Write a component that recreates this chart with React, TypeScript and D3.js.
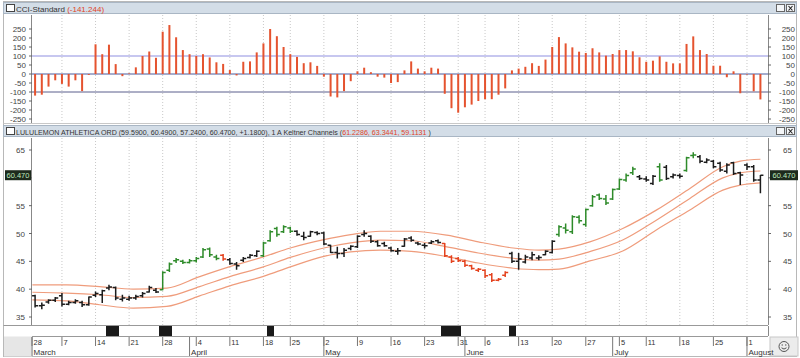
import React from 'react';
import * as d3 from 'd3';

// ---- data (trading-day index 0 = Feb 28 2011; bars start at index 1) ----
const FIRST_BAR = 1;
const open = [
  38.8, 37.0, 37.7, 38.0, 38.8, 37.3, 37.6, 37.6, 37.2, 38.9,
  39.0, 40.2, 40.3, 38.2, 38.2, 38.4, 38.8, 39.5, 39.8, 39.9,
  43.4, 45.1, 45.0, 44.8, 45.1, 45.8, 47.2, 45.8, 46.1, 45.3,
  44.5, 45.2, 45.7, 46.0, 46.0, 48.7, 50.9, 50.3, 51.0, 50.4,
  49.5, 49.5, 50.2, 50.1, 47.9, 46.6, 46.4, 47.3, 47.6, 49.8,
  49.5, 48.5, 48.2, 47.4, 46.8, 47.7, 49.2, 48.3, 47.9, 48.3,
  48.7, 48.2, 45.8, 45.5, 45.0, 44.2, 43.4, 43.4, 42.6, 41.6,
  42.5, 46.4, 45.0, 44.9, 45.6, 45.6, 46.2, 46.6, 49.8, 51.0,
  50.3, 52.9, 51.6, 55.0, 56.9, 56.2, 56.2, 58.0, 59.6, 60.9,
  60.2, 59.8, 59.0, 62.0, 61.9, 60.2, 60.4, 61.3, 64.0, 63.8,
  62.8, 63.0, 62.6, 61.2, 62.7, 60.9, 62.3, 62.0, 59.59,
];
const high = [
  39.0, 37.6, 38.2, 38.6, 39.3, 37.9, 38.2, 37.9, 38.7, 39.6,
  39.9, 40.8, 40.5, 39.0, 38.8, 39.0, 39.5, 40.6, 40.2, 43.2,
  44.8, 45.6, 45.3, 45.4, 45.8, 47.4, 47.5, 46.2, 46.3, 45.6,
  44.9, 45.8, 46.3, 47.0, 48.5, 50.6, 51.2, 51.5, 51.2, 50.6,
  50.3, 50.5, 50.4, 50.3, 48.0, 47.6, 47.4, 47.9, 49.7, 50.6,
  49.7, 48.8, 48.5, 47.6, 47.4, 49.2, 49.5, 48.5, 48.3, 48.8,
  48.9, 48.3, 46.1, 45.8, 45.3, 44.4, 43.8, 43.6, 42.9, 42.0,
  43.2, 46.7, 46.5, 46.2, 46.7, 46.1, 47.0, 48.8, 51.5, 51.8,
  53.3, 53.3, 54.5, 56.9, 57.2, 56.9, 58.1, 59.9, 60.8, 62.0,
  60.5, 60.3, 60.5, 62.6, 62.3, 60.8, 60.8, 63.8, 64.6, 64.1,
  63.5, 63.2, 62.9, 62.6, 62.9, 61.1, 62.6, 62.3, 60.49,
];
const low = [
  36.7, 36.4, 37.4, 37.7, 36.9, 37.1, 37.4, 36.8, 37.0, 38.6,
  37.5, 39.8, 38.0, 37.8, 37.9, 38.1, 38.5, 39.4, 39.3, 39.8,
  43.1, 44.7, 44.5, 44.6, 44.8, 45.6, 45.8, 45.2, 45.1, 44.4,
  43.5, 44.9, 45.5, 45.8, 45.8, 48.5, 49.4, 50.1, 50.1, 49.6,
  48.8, 49.4, 49.7, 47.9, 46.5, 45.5, 45.8, 47.0, 47.4, 49.4,
  48.3, 47.6, 47.6, 46.7, 46.2, 47.6, 48.5, 47.9, 47.3, 48.1,
  48.2, 45.8, 44.7, 44.9, 44.0, 43.5, 43.1, 42.0, 41.3, 41.4,
  42.2, 44.7, 43.5, 44.6, 45.2, 45.2, 46.1, 46.4, 49.4, 50.0,
  49.9, 51.8, 51.2, 54.8, 56.0, 55.1, 56.0, 57.8, 59.3, 60.5,
  59.6, 59.3, 58.7, 59.3, 59.6, 59.9, 59.9, 61.1, 63.5, 62.6,
  62.6, 61.7, 61.1, 60.8, 60.5, 58.7, 61.4, 59.3, 57.24,
];
const close = [
  37.0, 37.1, 38.0, 38.4, 37.3, 37.6, 37.9, 37.2, 38.6, 39.2,
  39.7, 40.4, 38.4, 38.4, 38.4, 38.7, 39.2, 40.3, 39.5, 43.0,
  44.5, 45.3, 44.8, 45.1, 45.5, 47.1, 46.2, 45.5, 45.4, 44.6,
  44.2, 45.5, 46.1, 46.8, 48.3, 50.3, 49.8, 51.2, 50.4, 49.8,
  49.3, 50.3, 50.0, 48.1, 46.6, 46.4, 47.0, 47.7, 49.5, 50.0,
  48.6, 47.8, 47.8, 46.9, 46.9, 49.0, 48.8, 48.1, 47.8, 48.5,
  48.4, 46.0, 45.0, 45.1, 44.3, 43.7, 43.6, 42.4, 41.6, 41.8,
  43.0, 45.0, 45.4, 45.8, 46.2, 45.7, 46.8, 48.6, 51.2, 50.6,
  53.0, 52.3, 54.3, 56.6, 56.3, 55.5, 57.9, 59.7, 60.4, 61.6,
  59.9, 59.6, 60.3, 59.6, 59.9, 60.5, 60.3, 63.6, 64.1, 63.0,
  63.2, 62.0, 61.4, 62.3, 60.8, 60.5, 62.0, 59.6, 60.47,
];
// bar colour state: k = neutral, g = up, r = down
const barState = (
  'kkkkkkkkkkkkkkkkkkk' + 'ggggggggg' + 'r' + 'kkkkk' + 'ggggg' +
  'kkkkkkkkkkkkkkkkkkkkkk' + 'rrrrrrrrrr' + 'kkkkkkk' + 'gggggggggggg' +
  'kkk' + 'g' + 'kkk' + 'gg' + 'kkkkkkkkkk'
).split('');

const cci = [
  -120, -115, -70, -35, -55, -70, -35, -95, -5, 165,
  110, 163, 55, -12, 3, 37, 100, 125, 90, 235,
  272, 204, 133, 110, 100, 110, 92, 65, 56, 22,
  -8, 68, 70, 120, 170, 250, 210, 150, 110, 95,
  60, 65, 45, -15, -125, -130, -95, -40, 15, 35,
  10, -15, -20, -50, -45, 20, 70, 30, 15, 35,
  30, -110, -190, -215, -185, -170, -150, -140, -140, -115,
  -80, 20, 30, 40, 60, 45, 80, 150, 205, 170,
  148, 124, 117, 143, 120, 102, 111, 133, 133, 126,
  93, 68, 74, 98, 68, 59, 59, 167, 209, 133,
  111, 46, 46, -18, 15, -107, -3, -96, -141.244,
];

// Keltner channel readings
const keltIdx = [0.6, 5.7, 10.6, 15.6, 20.6, 25.5, 30, 35, 39, 44, 48, 52.4, 57, 62.3, 67, 72.2, 76, 79, 83.6, 88.5, 93.5, 98.5, 103.4, 106, 109];
const keltUpper = [40.76, 40.76, 40.46, 40.0, 40.2, 42.26, 44.05, 45.8, 47.4, 48.9, 49.8, 50.4, 50.4, 49.7, 48.5, 47.4, 47.0, 47.2, 48.5, 50.9, 54.2, 58.1, 62.0, 63.0, 63.34];
const keltMid = [39.45, 39.3, 39.0, 38.5, 38.7, 40.46, 42.26, 44.0, 45.7, 47.4, 48.3, 48.8, 48.7, 47.6, 46.5, 45.55, 45.2, 45.4, 46.75, 48.84, 52.4, 56.3, 60.0, 60.9, 61.23];
const keltLower = [38.07, 37.9, 37.2, 36.6, 36.9, 38.79, 40.6, 42.3, 44.0, 45.9, 46.7, 47.0, 46.8, 45.85, 44.7, 43.76, 43.5, 43.6, 45.07, 46.87, 50.64, 54.23, 57.8, 58.7, 59.11];

// marker strip (first and last bar index of each highlighted run)
const markerStart = [12, 20, 36, 62, 72];
const markerEnd = [13, 21, 36, 64, 72];

// axis labels
const weekTickIdx = [0, 5, 10, 15, 20, 25, 30, 35, 39, 44, 49, 54, 59, 64, 68, 73, 78, 83, 88, 92, 97, 102, 107];
const weekTickLabels = ['28', '7', '14', '21', '28', '4', '11', '18', '25', '2', '9', '16', '23', '31', '6', '13', '20', '27', '5', '11', '18', '25', '1'];
const monthIdx = [0.55, 24, 44, 65, 87, 107];
const monthLabels = ['March', 'April', 'May', 'June', 'July', 'August'];
const priceTicks = [35, 40, 45, 50, 55, 60, 65];
const cciTicks = [-250, -200, -150, -100, -50, 0, 50, 100, 150, 200, 250];
const lastPrice = 60.47;

const FONT = '"Liberation Sans", Arial, sans-serif';

export default function App() {
  const L = 32, R = 768;
  const x = d3.scaleLinear().domain([0.54, 110.13]).range([L, R]);
  const cciTop = 15, cciBot = 123;
  const yC = d3.scaleLinear().domain([-250, 250]).range([119, 29]);
  const mainTop = 138, mainBot = 325;
  const yP = d3.scaleLinear().domain([35, 65]).range([317, 150]);

  const colorOf = (s: string) => (s === 'g' ? '#2e8b2a' : s === 'r' ? '#e4421e' : '#1c1c1c');

  const bars = open.map((o, k) => {
    const i = k + FIRST_BAR;
    const cx = x(i);
    const d = `M${cx},${yP(high[k])}V${yP(low[k])}M${cx - 3},${yP(o)}H${cx}M${cx},${yP(close[k])}H${cx + 3}`;
    return <path key={k} d={d} stroke={colorOf(barState[k])} strokeWidth={1.5} fill="none" />;
  });

  const line = (vals: number[]) =>
    d3.line<number>().x((_, j) => x(keltIdx[j])).y((v) => yP(v)).curve(d3.curveMonotoneX)(vals) || '';

  const cciBars = cci.map((v, k) => {
    const i = k + FIRST_BAR;
    const y0 = yC(0), y1 = yC(v);
    return <rect key={k} x={x(i) - 1} y={Math.min(y0, y1)} width={2} height={Math.abs(y1 - y0)} fill="#e5532f" />;
  });

  const grid = (top: number, bot: number) =>
    weekTickIdx.slice(1).map((i, k) => (
      <line key={k} x1={x(i)} x2={x(i)} y1={top} y2={bot} stroke="#c8c8c8" strokeDasharray="1,2" />
    ));

  const titleBar = (y: number, children: React.ReactNode) => (
    <g>
      <rect x={3.5} y={y + 0.5} width={793} height={11} fill="#d3dde7" stroke="#a9b6c4" />
      <rect x={6.5} y={y + 2.5} width={8} height={7} fill="#ffffff" stroke="#444" />
      <g>{children}</g>
      <rect x={776.5} y={y + 2.5} width={8} height={7} fill="#f4f6f8" stroke="#666" />
      <rect x={786.5} y={y + 2.5} width={8} height={7} fill="#f4f6f8" stroke="#666" />
      <path d={`M${788.5},${y + 4}L${792.5},${y + 8.5}M${792.5},${y + 4}L${788.5},${y + 8.5}`} stroke="#222" strokeWidth={1.1} />
    </g>
  );

  return (
    <svg width={800} height={358} style={{ position: 'fixed', left: 0, top: 0, background: '#fff' }} fontFamily={FONT}>
      <rect x={0} y={0} width={800} height={358} fill="#ffffff" />
      <rect x={3.5} y={1.5} width={793} height={355} fill="none" stroke="#b8b8b8" />

      {/* ---------- CCI panel ---------- */}
      {titleBar(2, (
        <text x={16} y={11.5} fontSize={8} fill="#333">
          CCI-Standard <tspan fill="#e0442a">(-141.244)</tspan>
        </text>
      ))}
      {grid(cciTop, cciBot)}
      <line x1={L} x2={R} y1={yC(100)} y2={yC(100)} stroke="#8f8fe0" strokeWidth={1} />
      <line x1={L} x2={R} y1={yC(0)} y2={yC(0)} stroke="#4b5a9c" strokeWidth={1} />
      <line x1={L} x2={R} y1={yC(-100)} y2={yC(-100)} stroke="#5a5f8c" strokeWidth={1} />
      {cciBars}
      <line x1={L - 0.5} x2={L - 0.5} y1={cciTop} y2={cciBot} stroke="#888" />
      <line x1={R + 0.5} x2={R + 0.5} y1={cciTop} y2={cciBot} stroke="#888" />
      {cciTicks.map((t) => (
        <g key={t}>
          <line x1={L - 3} x2={L} y1={yC(t)} y2={yC(t)} stroke="#666" />
          <line x1={R} x2={R + 3} y1={yC(t)} y2={yC(t)} stroke="#666" />
          <text x={26} y={yC(t) + 3} fontSize={8} textAnchor="end" fill="#444">{t}</text>
          <text x={795} y={yC(t) + 3} fontSize={8} textAnchor="end" fill="#444">{t}</text>
        </g>
      ))}
      <line x1={3.5} x2={796.5} y1={123.5} y2={123.5} stroke="#c8c8c8" />

      {/* ---------- price panel ---------- */}
      {titleBar(125, (
        <text x={16} y={134.5} fontSize={7.1} fill="#333">
          LULULEMON ATHLETICA ORD (59.5900, 60.4900, 57.2400, 60.4700, +1.1800), 1 A Keltner Channels (
          <tspan fill="#e0442a">61.2286, 63.3441, 59.1131</tspan> )
        </text>
      ))}
      {grid(mainTop, mainBot)}
      <path d={line(keltUpper)} fill="none" stroke="#ef9c7c" strokeWidth={1.2} />
      <path d={line(keltMid)} fill="none" stroke="#ef9c7c" strokeWidth={1.2} />
      <path d={line(keltLower)} fill="none" stroke="#ef9c7c" strokeWidth={1.2} />
      {bars}
      <line x1={L - 0.5} x2={L - 0.5} y1={mainTop} y2={mainBot} stroke="#888" />
      <line x1={R + 0.5} x2={R + 0.5} y1={mainTop} y2={mainBot} stroke="#888" />
      {priceTicks.map((t) => (
        <g key={t}>
          <line x1={L - 3} x2={L} y1={yP(t)} y2={yP(t)} stroke="#666" />
          <line x1={R} x2={R + 3} y1={yP(t)} y2={yP(t)} stroke="#666" />
          {Math.abs(yP(t) - yP(lastPrice)) > 9 && (
            <>
              <text x={25} y={yP(t) + 3} fontSize={8} textAnchor="end" fill="#444">{t}</text>
              <text x={792} y={yP(t) + 3} fontSize={8} textAnchor="end" fill="#444">{t}</text>
            </>
          )}
        </g>
      ))}
      <rect x={5} y={yP(lastPrice) - 5} width={26} height={10} fill="#1d2a1d" />
      <text x={18} y={yP(lastPrice) + 3} fontSize={7.5} textAnchor="middle" fill="#bfe8bf">{lastPrice.toFixed(3)}</text>
      <rect x={770} y={yP(lastPrice) - 5} width={28} height={10} fill="#1d2a1d" />
      <text x={784} y={yP(lastPrice) + 3} fontSize={7.5} textAnchor="middle" fill="#bfe8bf">{lastPrice.toFixed(3)}</text>

      {/* marker strip */}
      <line x1={3.5} x2={R} y1={325.5} y2={325.5} stroke="#999" />
      {markerStart.map((s, k) => (
        <rect key={k} x={Math.round(x(s - 0.5))} y={326} width={Math.round(x(markerEnd[k] + 0.5) - x(s - 0.5))} height={10} fill="#1a1a1a" />
      ))}
      <line x1={R + 0.5} x2={R + 0.5} y1={326} y2={336} stroke="#888" />

      {/* date axis */}
      <rect x={4} y={336.5} width={L - 4} height={20} fill="#e6e6e6" />
      <rect x={R + 2} y={337} width={28} height={19} fill="#ececec" stroke="#c8c8c8" />
      <circle cx={784} cy={346.5} r={5} fill="none" stroke="#555" />
      <circle cx={782.2} cy={345} r={0.7} fill="#555" />
      <circle cx={785.8} cy={345} r={0.7} fill="#555" />
      <path d="M781.5,347.8Q784,350.3 786.5,347.8" fill="none" stroke="#555" />
      <line x1={L} x2={R} y1={336.5} y2={336.5} stroke="#999" />
      {weekTickIdx.map((i, k) => (
        <g key={k}>
          <line x1={Math.max(x(i), L)} x2={Math.max(x(i), L)} y1={337} y2={346} stroke="#777" />
          <text x={Math.max(x(i), L) + 1.5} y={344.5} fontSize={7.5} fill="#333">{weekTickLabels[k]}</text>
        </g>
      ))}
      {monthIdx.map((i, k) => (
        <g key={k}>
          <line x1={Math.max(x(i), L)} x2={Math.max(x(i), L)} y1={337} y2={356} stroke="#777" />
          <text x={Math.max(x(i), L) + 1.5} y={354.5} fontSize={8} fill="#333">{monthLabels[k]}</text>
        </g>
      ))}
    </svg>
  );
}
